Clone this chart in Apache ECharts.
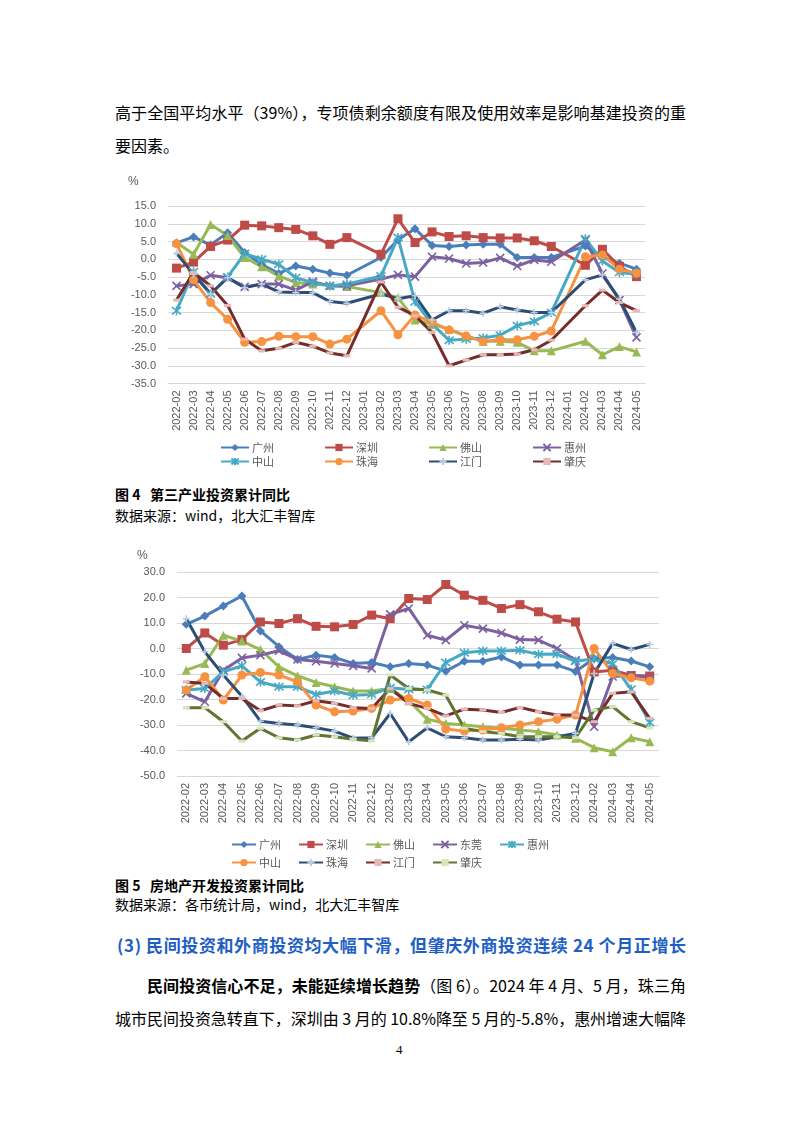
<!DOCTYPE html>
<html>
<head>
<meta charset="utf-8">
<script src="https://cdn.jsdelivr.net/npm/echarts@6/dist/echarts.min.js"></script>
<style>
  body { margin: 0; background: #fff; }
  #page { position: relative; width: 802px; height: 1133px; overflow: hidden; font-family: "Noto Sans CJK SC", sans-serif; color: #000; }
  .ln { position: absolute; white-space: nowrap; }
  .body { font-size: 16px; line-height: 20px; }
  .cap { font-size: 14px; line-height: 18px; }
  .chart { position: absolute; left: 0; width: 802px; }
</style>
</head>
<body>
<div id="page">
  <div class="ln body fit" data-w="571" style="left:115px;top:102px;">高于全国平均水平（39%），专项债剩余额度有限及使用效率是影响基建投资的重</div>
  <div class="ln body" style="left:115px;top:135px;">要因素。</div>

  <div id="c1" class="chart" style="top:170px;height:300px;"></div>

  <div class="ln cap" style="left:115px;top:485px;font-weight:bold;">图 4&nbsp;&nbsp;&nbsp;第三产业投资累计同比</div>
  <div class="ln cap" style="left:115px;top:506px;">数据来源：wind，北大汇丰智库</div>

  <div id="c2" class="chart" style="top:550px;height:320px;"></div>

  <div class="ln cap" style="left:115px;top:876px;font-weight:bold;">图 5&nbsp;&nbsp;&nbsp;房地产开发投资累计同比</div>
  <div class="ln cap" style="left:115px;top:895px;">数据来源：各市统计局，wind，北大汇丰智库</div>

  <div class="ln fit" data-w="569" style="left:117px;top:934px;font-size:17px;line-height:22px;font-weight:bold;color:#1F5FC4;">(3) 民间投资和外商投资均大幅下滑，但肇庆外商投资连续 24 个月正增长</div>
  <div class="ln body fit" data-w="539" style="left:147px;top:975px;"><b>民间投资信心不足，未能延续增长趋势</b>（图 6）。2024 年 4 月、5 月，珠三角</div>
  <div class="ln body fit" data-w="571" style="left:115px;top:1008px;">城市民间投资急转直下，深圳由 3 月的 10.8%降至 5 月的-5.8%，惠州增速大幅降</div>
  <div class="ln" style="left:396px;top:1042px;font-size:13px;font-family:'Liberation Serif',serif;">4</div>
</div>
<script>
// ---------- 图4 第三产业投资累计同比 ----------
const months1 = ["2022-02","2022-03","2022-04","2022-05","2022-06","2022-07","2022-08","2022-09","2022-10","2022-11","2022-12",
  "2023-01","2023-02","2023-03","2023-04","2023-05","2023-06","2023-07","2023-08","2023-09","2023-10","2023-11","2023-12",
  "2024-01","2024-02","2024-03","2024-04","2024-05"];
const cities1 = ["广州","深圳","佛山","惠州","中山","珠海","江门","肇庆"];
const gz1 = [4.6, 6.3, 4.0, 7.5, 1.9, -1.5, -4.0, -1.9, -2.8, -3.9, -4.5, null, 0.5, 5.5, 8.6, 3.9, 3.6, 4.0, 4.2, 4.2, 0.5, 0.5, 0.5, null, 3.7, 0.5, -1.1, -2.8];
const sz1 = [-2.5, -0.8, 3.6, 5.4, 9.6, 9.4, 8.9, 8.4, 6.6, 4.2, 6.1, null, 1.4, 11.4, 4.7, 7.7, 6.4, 6.6, 6.1, 6.0, 6.0, 5.2, 3.6, null, -1.7, 2.8, -2.0, -4.9];
const fs1 = [4.7, 1.4, 9.8, 6.7, 0.5, -2.1, -4.7, -6.6, -7.0, -7.3, -7.7, null, -9.4, -10.8, -17.1, -18.3, -19.7, -21.6, -23.1, -23.1, -23.4, -25.8, -25.8, null, -23.1, -26.9, -24.6, -26.1];
const hz1 = [-7.5, -7.0, -4.5, -5.2, -7.8, -7.0, -7.0, -8.7, -6.3, -7.5, -7.5, null, -5.6, -4.4, -4.9, 0.7, 0.2, -1.2, -0.9, 0.4, -1.9, -0.2, -0.7, null, 5.4, -4.0, -11.5, -22.0];
const zs1 = [-14.5, -3.5, -9.8, -5.0, 1.6, 0.0, -1.4, -5.2, -6.6, -7.5, -7.0, null, -4.7, 6.1, -12.0, -18.3, -22.8, -22.5, -22.2, -21.4, -18.7, -17.5, -15.0, null, 5.8, -0.5, -3.7, -4.2];
const zh1 = [4.4, -5.8, -12.2, -16.9, -23.4, -23.2, -21.7, -21.8, -21.8, -23.9, -22.5, null, -14.5, -21.3, -15.7, -17.8, -19.9, -21.6, -23.2, -22.7, -22.7, -21.7, -20.2, null, 0.7, 1.2, -2.8, -3.9];
const jm1 = [1.7, -4.2, -9.8, -5.2, -8.0, -7.0, -9.2, -9.4, -9.4, -11.9, -12.4, null, -9.8, -11.1, -10.3, -17.1, -14.5, -14.5, -15.2, -13.4, -14.3, -15.0, -15.0, null, -5.8, -4.4, -11.2, -20.6];
const zq1 = [-11.5, -3.7, -7.5, -13.0, -22.5, -25.8, -25.1, -23.4, -24.5, -26.4, -27.2, null, -6.4, -13.5, -15.9, -20.6, -30.0, -28.4, -26.9, -26.9, -26.7, -25.5, -22.8, null, -13.1, -8.7, -12.2, -14.5];

// ---------- 图5 房地产开发投资累计同比 ----------
const months2 = ["2022-02","2022-03","2022-04","2022-05","2022-06","2022-07","2022-08","2022-09","2022-10","2022-11","2022-12",
  "2023-02","2023-03","2023-04","2023-05","2023-06","2023-07","2023-08","2023-09","2023-10","2023-11","2023-12",
  "2024-02","2024-03","2024-04","2024-05"];
const cities2 = ["广州","深圳","佛山","东莞","惠州","中山","珠海","江门","肇庆"];
const gz2 = [9.5, 12.7, 16.7, 20.6, 6.9, 0.7, -4.3, -2.6, -3.5, -5.9, -5.5, -7.2, -5.9, -6.5, -8.9, -5.0, -5.0, -3.3, -6.5, -6.5, -6.5, -9.0, -3.9, -3.5, -4.9, -7.2];
const sz2 = [0.0, 6.1, 1.3, 3.5, 10.4, 9.8, 11.7, 8.7, 8.5, 9.4, 13.1, 11.7, 19.6, 19.2, 25.1, 20.9, 18.9, 15.7, 17.2, 14.4, 11.5, 10.4, -9.2, -8.5, -10.6, -10.8];
const fs2 = [-8.5, -5.9, 5.2, 2.9, -0.4, -7.2, -10.7, -13.3, -15.0, -16.7, -16.7, -15.7, -20.5, -27.7, -29.4, -30.0, -30.7, -31.3, -32.0, -32.6, -33.9, -35.2, -38.9, -40.5, -35.0, -36.6];
const dg2 = [-17.6, -20.9, -8.5, -3.7, -2.6, -0.9, -4.3, -5.0, -5.9, -6.8, -7.8, 13.4, 15.7, 5.2, 3.3, 9.1, 7.8, 6.1, 3.5, 3.3, 0.0, -4.6, -30.7, -11.0, -10.5, -11.5];
const hz2 = [-16.3, -15.7, -9.1, -6.8, -13.1, -15.0, -15.0, -18.0, -16.7, -18.3, -18.0, -15.4, -16.1, -16.1, -5.5, -1.7, -1.0, -1.0, -0.7, -2.3, -2.2, -5.0, -4.0, -6.0, -16.0, -29.0];
const zs2 = [-16.3, -11.1, -20.2, -10.4, -9.4, -10.4, -13.1, -22.2, -24.8, -24.5, -23.5, -20.2, -19.6, -22.2, -31.6, -32.4, -32.0, -31.1, -30.0, -28.7, -27.7, -26.1, 0.0, -9.8, -11.5, -12.8];
const zh2 = [11.7, -1.3, -10.4, -18.7, -28.5, -29.4, -30.0, -31.1, -32.4, -35.2, -35.0, -25.5, -36.6, -31.1, -34.6, -35.0, -35.9, -35.9, -35.6, -35.9, -34.6, -33.3, -9.8, 2.0, -0.4, 1.6];
const jm2 = [-13.1, -13.7, -19.6, -19.6, -24.4, -22.2, -22.5, -20.5, -21.5, -23.2, -23.5, -15.7, -21.5, -23.5, -26.4, -23.8, -24.1, -25.1, -23.1, -24.8, -26.1, -26.1, -28.7, -17.6, -17.0, -27.4];
const zq2 = [-23.2, -23.2, -28.7, -36.3, -31.3, -35.0, -35.9, -33.9, -34.6, -35.6, -36.2, -10.4, -15.7, -16.3, -18.3, -31.3, -32.6, -33.3, -34.6, -34.6, -34.6, -35.0, -24.2, -22.8, -28.7, -31.1];

// Excel 默认配色顺序
const X_PATH = "path://M0,0L10,10M10,0L0,10";
const STAR_PATH = "path://M1,1L9,9M9,1L1,9M5,0L5,10";
const PLUS_PATH = "path://M5,0L5,10M0,5L10,5";
const styles = [
  { color: "#4A7EBB", symbol: "diamond", size: 9 },
  { color: "#BE4B48", symbol: "rect", size: 9 },
  { color: "#98B954", symbol: "triangle", size: 9 },
  { color: "#7D60A0", symbol: X_PATH, size: 8, stroke: true },
  { color: "#46AAC5", symbol: STAR_PATH, size: 9, stroke: true },
  { color: "#F69240", symbol: "circle", size: 9 },
  { color: "#2C4D75", symbol: PLUS_PATH, size: 7, stroke: true, mark: "#B9CDE5" },
  { color: "#772C2A", symbol: "rect", size: [7, 3], mark: "#E6B9B8" },
  { color: "#5F7530", symbol: "rect", size: [7, 3], mark: "#D7E4BD" }
];

const NUM_FONT = "'Liberation Sans', Arial, sans-serif";
const CJK_FONT = "'Noto Sans CJK SC', sans-serif";
const GRAY = "#595959";

// 把单行文字撑满到给定宽度（两端对齐）
function fitLines() {
  document.querySelectorAll(".fit").forEach((el) => {
    const target = +el.dataset.w;
    const n = el.textContent.length;
    el.style.letterSpacing = "0px";
    const w = el.getBoundingClientRect().width;
    el.style.letterSpacing = ((target - w) / (n - 1)).toFixed(3) + "px";
  });
}
fitLines();

function makeSeries(name, data, st) {
  const mc = st.mark || st.color;
  return {
    name, type: "line", data, connectNulls: true,
    symbol: st.symbol, symbolSize: st.size, showSymbol: true,
    lineStyle: { color: st.color, width: 3 },
    itemStyle: st.stroke
      ? { color: mc, borderColor: mc, borderWidth: 1.6 }
      : { color: mc, borderWidth: 0 },
    emphasis: { disabled: true },
    animation: false
  };
}

function legendRow(names, left, top, itemWidth, itemGap) {
  return {
    data: names, left, top, itemWidth, itemHeight: 9, itemGap,
    selectedMode: false,
    textStyle: { fontSize: 11, color: GRAY, fontFamily: CJK_FONT, padding: [0, 0, 0, -2] }
  };
}

function baseOption(months, grid, yMin, yMax, yStep, pctTop) {
  return {
    animation: false,
    grid,
    graphic: [{ type: "text", left: grid.left - 40, top: pctTop, style: { text: "%", fontSize: 12, fill: GRAY, fontFamily: NUM_FONT } }],
    xAxis: {
      type: "category", data: months, boundaryGap: true,
      axisTick: { show: false },
      axisLine: { onZero: false, lineStyle: { color: "#D9D9D9" } },
      axisLabel: { rotate: 90, interval: 0, fontSize: 11, color: GRAY, fontFamily: NUM_FONT, margin: 7 }
    },
    yAxis: {
      type: "value", min: yMin, max: yMax, interval: yStep,
      axisLine: { show: false }, axisTick: { show: false },
      splitLine: { lineStyle: { color: "#D9D9D9", width: 1 } },
      axisLabel: { fontSize: 11, color: GRAY, fontFamily: NUM_FONT, margin: 12, formatter: (v) => v.toFixed(1) }
    }
  };
}

// 图4
const data1 = [gz1, sz1, fs1, hz1, zs1, zh1, jm1, zq1];
const chart1 = echarts.init(document.getElementById("c1"));
const opt1 = baseOption(months1, { left: 168, top: 36, width: 477, height: 177.5 }, -35, 15, 5, 6);
opt1.series = cities1.map((c, i) => makeSeries(c, data1[i], styles[i]));
opt1.legend = [
  legendRow(cities1.slice(0, 4), 215, 267, 28, 50),
  legendRow(cities1.slice(4), 215, 281, 28, 50)
];
chart1.setOption(opt1);

// 图5
const data2 = [gz2, sz2, fs2, dg2, hz2, zs2, zh2, jm2, zq2];
const chart2 = echarts.init(document.getElementById("c2"));
const opt2 = baseOption(months2, { left: 177, top: 22, width: 482, height: 204 }, -50, 30, 10, 0);
opt2.series = cities2.map((c, i) => makeSeries(c, data2[i], styles[i]));
opt2.legend = [
  legendRow(cities2.slice(0, 5), 226, 284, 24, 17),
  legendRow(cities2.slice(5), 226, 302, 24, 17)
];
chart2.setOption(opt2);
</script>
</body>
</html>
